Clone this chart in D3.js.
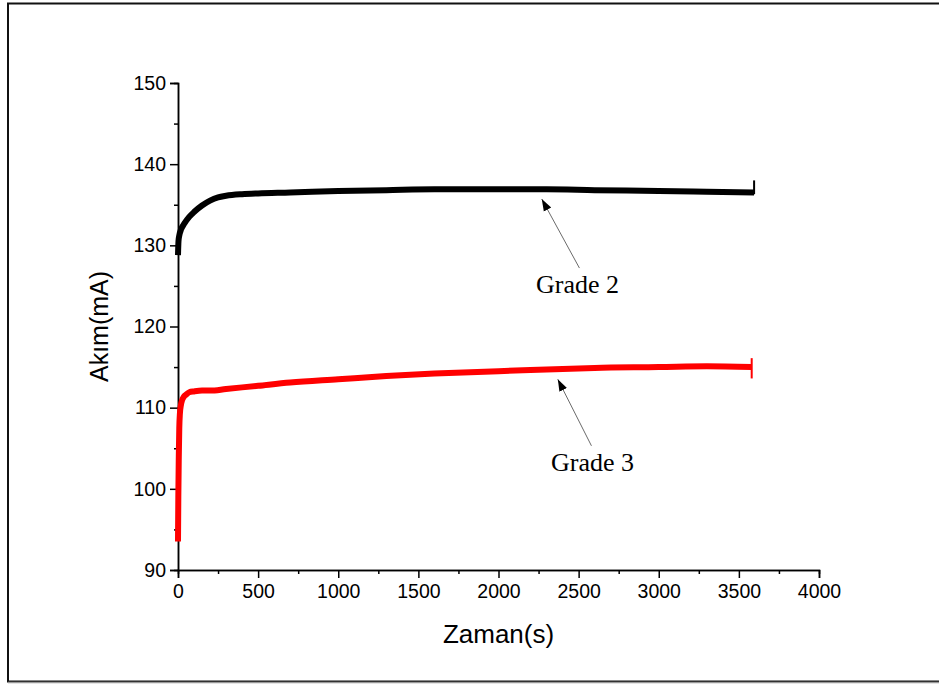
<!DOCTYPE html>
<html>
<head>
<meta charset="utf-8">
<script src="https://cdn.jsdelivr.net/npm/d3@7"></script>
<style>
  body { margin: 0; background: #fff; }
</style>
</head>
<body>
<div id="chart"></div>
<script>
const width = 939;
const height = 684;

// Data ///////////////////////////////////////////////
const grade2Time = [0, 3, 8, 20, 40, 70, 100, 150, 200, 250, 300, 400, 500, 700, 1000, 1300, 1600, 2000, 2300, 2600, 3000, 3300, 3595];
const grade2Akim = [128.8, 130.5, 131.2, 132.0, 132.7, 133.5, 134.1, 134.9, 135.5, 135.9, 136.1, 136.3, 136.4, 136.5, 136.7, 136.8, 136.9, 136.9, 136.9, 136.8, 136.7, 136.6, 136.5];
const grade3Time = [0, 2, 5, 8, 12, 18, 25, 35, 50, 70, 100, 150, 200, 300, 500, 700, 1000, 1300, 1600, 2000, 2300, 2600, 3000, 3300, 3580];
const grade3Akim = [93.5, 99, 104, 107.5, 109.3, 110.3, 110.9, 111.3, 111.6, 111.9, 112.0, 112.1, 112.1, 112.3, 112.7, 113.1, 113.5, 113.9, 114.2, 114.5, 114.7, 114.9, 115.0, 115.1, 115.0];
const endSpikes = [
  { t: 3595, lo: 136.3, hi: 138.0, color: "#000" },
  { t: 3580, lo: 113.6, hi: 116.1, color: "#ff0000" }
];
const xTicks = [0, 500, 1000, 1500, 2000, 2500, 3000, 3500, 4000];
const yTicks = [90, 100, 110, 120, 130, 140, 150];
const annotations = [
  { label: "Grade 2", from: [2505, 127.2], to: [2270, 135.7], textX: 2493 },
  { label: "Grade 3", from: [2580, 105.3], to: [2370, 113.5], textX: 2587 }
];

// Setup //////////////////////////////////////////////
const svg = d3.select("#chart")
  .append("svg")
  .attr("width", width)
  .attr("height", height);

// frame
svg.append("rect")
  .attr("x", 8).attr("y", 3.5)
  .attr("width", 940).attr("height", 678)
  .style("fill", "none")
  .style("stroke", "#111")
  .style("stroke-width", 2);
svg.append("line")
  .attr("x1", 8).attr("x2", 939).attr("y1", 682.5).attr("y2", 682.5)
  .style("stroke", "#999").style("stroke-width", 1.5);

const x = d3.scaleLinear().domain([0, 4000]).range([178, 819]);
const y = d3.scaleLinear().domain([90, 150]).range([570, 83]);

// Axes ///////////////////////////////////////////////
svg.append("g")
  .attr("class", "x-axis")
  .attr("transform", `translate(0,${y(90)})`)
  .call(d3.axisBottom(x).tickValues(xTicks).tickSize(8).tickPadding(6).tickFormat(d3.format("d")));
svg.append("g")
  .attr("transform", `translate(0,${y(90)})`)
  .call(d3.axisBottom(x).tickValues(d3.range(250, 4000, 500)).tickSize(4).tickFormat(""));

svg.append("g")
  .attr("transform", `translate(${x(0)},0)`)
  .call(d3.axisLeft(y).tickValues(yTicks).tickSize(8).tickPadding(4));
svg.append("g")
  .attr("transform", `translate(${x(0)},0)`)
  .call(d3.axisLeft(y).tickValues(d3.range(95, 150, 10)).tickSize(4).tickFormat(""));

svg.selectAll(".domain").style("stroke", "#000").style("stroke-width", 1.5);
svg.selectAll(".tick line").style("stroke", "#000").style("stroke-width", 1.5);
svg.selectAll(".tick text")
  .style("font-family", "Liberation Sans, Arial, sans-serif")
  .style("font-size", "19.5px")
  .style("fill", "#000");

svg.append("text")
  .attr("x", (x(0) + x(4000)) / 2)
  .attr("y", 643)
  .attr("text-anchor", "middle")
  .style("font-family", "Liberation Sans, Arial, sans-serif")
  .style("font-size", "26px")
  .text("Zaman(s)");

svg.append("text")
  .attr("transform", `translate(108,${y(120)}) rotate(-90)`)
  .attr("text-anchor", "middle")
  .style("font-family", "Liberation Sans, Arial, sans-serif")
  .style("font-size", "25px")
  .text("Akım(mA)");

// Lines //////////////////////////////////////////////
const line = d3.line()
  .x(d => x(d[0]))
  .y(d => y(d[1]))
  .curve(d3.curveMonotoneX);

svg.append("path")
  .datum(grade2Time.map((t, i) => [t, grade2Akim[i]]))
  .attr("d", line)
  .style("fill", "none")
  .style("stroke", "#000")
  .style("stroke-width", 6);

svg.append("path")
  .datum(grade3Time.map((t, i) => [t, grade3Akim[i]]))
  .attr("d", line)
  .style("fill", "none")
  .style("stroke", "#ff0000")
  .style("stroke-width", 6);

endSpikes.forEach(s => {
  svg.append("line")
    .attr("x1", x(s.t)).attr("x2", x(s.t))
    .attr("y1", y(s.lo)).attr("y2", y(s.hi))
    .style("stroke", s.color)
    .style("stroke-width", 2);
});

// Annotations ////////////////////////////////////////
svg.append("defs").append("marker")
  .attr("id", "arrow")
  .attr("viewBox", "0 0 10 10")
  .attr("refX", 10).attr("refY", 5)
  .attr("markerWidth", 12).attr("markerHeight", 12)
  .attr("markerUnits", "userSpaceOnUse")
  .attr("orient", "auto")
  .append("path")
  .attr("d", "M0,1.5 L10,5 L0,8.5 Z")
  .style("fill", "#000");

annotations.forEach(a => {
  svg.append("line")
    .attr("x1", x(a.from[0])).attr("y1", y(a.from[1]))
    .attr("x2", x(a.to[0])).attr("y2", y(a.to[1]))
    .style("stroke", "#444")
    .style("stroke-width", 0.8)
    .attr("marker-end", "url(#arrow)");
  svg.append("text")
    .attr("x", x(a.textX))
    .attr("y", y(a.from[1]) + 25)
    .attr("text-anchor", "middle")
    .style("font-family", "Liberation Serif, Times New Roman, serif")
    .style("font-size", "26px")
    .text(a.label);
});
</script>
</body>
</html>
